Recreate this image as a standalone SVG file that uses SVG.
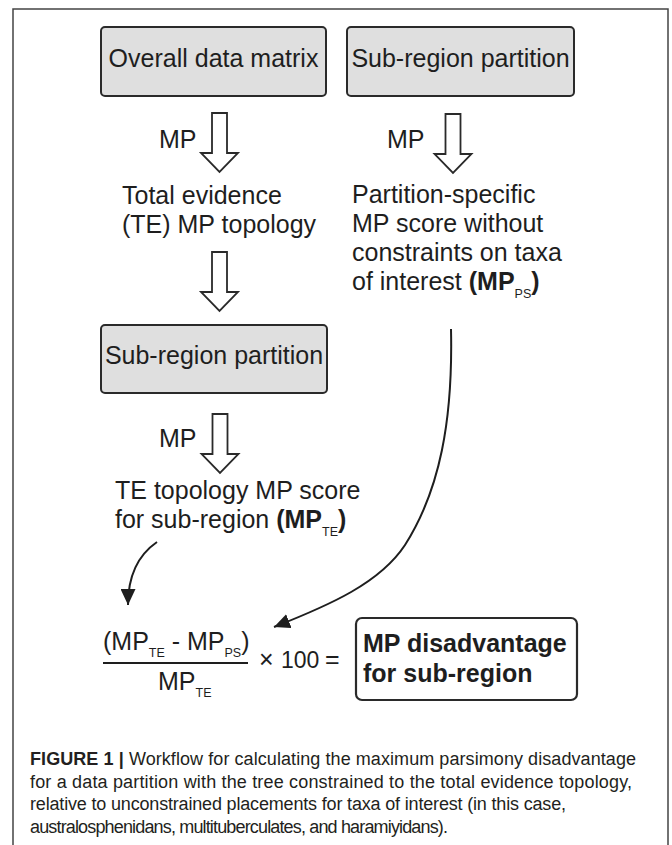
<svg xmlns="http://www.w3.org/2000/svg" width="672" height="845" viewBox="0 0 672 845">
<defs>
<style>
.t{font-family:"Liberation Sans",Arial,sans-serif;font-size:25px;fill:#1e1e1e}
.b{font-weight:bold}
.sub{font-size:12.5px}
.box{fill:#dfdfdf;stroke:#2a2a2a;stroke-width:2}
.res{fill:#fff;stroke:#2a2a2a;stroke-width:2.2}
.blk{fill:#fff;stroke:#2a2a2a;stroke-width:1.8;stroke-linejoin:miter}
.cur{fill:none;stroke:#1e1e1e;stroke-width:2}
.cap{font-family:"Liberation Sans",Arial,sans-serif;font-size:18px;fill:#231f20}
</style>
<path id="blockArrow" class="blk" d="M-7.5,0 V40 H-18.5 L0,59 L18.5,40 H7.5 V0 Z"/>
<marker id="head" markerUnits="userSpaceOnUse" markerWidth="17" markerHeight="15" refX="16" refY="7.5" orient="auto">
<path d="M0,0 L16,7.5 L0,15 Z" fill="#1e1e1e"/>
</marker>
</defs>
<rect width="672" height="845" fill="#fff"/>
<path d="M13,845 V9 H668 V845" fill="none" stroke="#444" stroke-width="1.5"/>

<g id="overall-data-matrix">
<rect class="box" x="101" y="27" width="225" height="69" rx="4"/>
<text class="t" x="213.5" y="67" text-anchor="middle">Overall data matrix</text>
</g>
<g id="sub-region-partition-1">
<rect class="box" x="347" y="27" width="227" height="69" rx="4"/>
<text class="t" x="460.5" y="67" text-anchor="middle">Sub-region partition</text>
</g>
<g id="te-topology">
<text class="t" x="122" y="204">Total evidence</text>
<text class="t" x="122" y="233">(TE) MP topology</text>
</g>
<g id="partition-specific">
<text class="t" x="352" y="203">Partition-specific</text>
<text class="t" x="352" y="232">MP score without</text>
<text class="t" x="352" y="261">constraints on taxa</text>
<text class="t" x="352" y="290">of interest <tspan class="b">(MP</tspan><tspan class="sub" dy="8">PS</tspan><tspan class="b" dy="-8">)</tspan></text>
</g>
<g id="sub-region-partition-2">
<rect class="box" x="101" y="325" width="226" height="68" rx="4"/>
<text class="t" x="214" y="364" text-anchor="middle">Sub-region partition</text>
</g>
<g id="te-score">
<text class="t" x="115" y="499">TE topology MP score</text>
<text class="t" x="115" y="528">for sub-region <tspan class="b">(MP</tspan><tspan class="sub" dy="8">TE</tspan><tspan class="b" dy="-8">)</tspan></text>
</g>
<g id="formula">
<text class="t" x="103" y="650">(MP<tspan class="sub" dy="7">TE</tspan><tspan dy="-7"> - MP</tspan><tspan class="sub" dy="7">PS</tspan><tspan dy="-7">)</tspan></text>
<line x1="103" y1="663" x2="248" y2="663" stroke="#1e1e1e" stroke-width="2"/>
<text class="t" x="158" y="690">MP<tspan class="sub" dy="7">TE</tspan></text>
<text class="t" x="259" y="668">×</text>
<text class="t" x="281" y="668" style="font-size:23px">100</text>
<text class="t" x="325" y="668">=</text>
</g>
<g id="mp-disadvantage">
<rect class="res" x="356" y="618" width="221" height="82" rx="6"/>
<text class="t b" x="363" y="652">MP disadvantage</text>
<text class="t b" x="363" y="682">for sub-region</text>
</g>

<g id="connectors">
<use href="#blockArrow" x="219.5" y="113"/>
<text class="t" x="159" y="148">MP</text>
<use href="#blockArrow" x="453" y="114"/>
<text class="t" x="387" y="148">MP</text>
<use href="#blockArrow" x="219.5" y="252"/>
<use href="#blockArrow" x="220" y="414"/>
<text class="t" x="159" y="447">MP</text>
<path class="cur" d="M157,542 Q128,562 128,605" marker-end="url(#head)"/>
<path class="cur" d="M451,329 C453,420 440,490 405,545 C380,583 330,605 274,627" marker-end="url(#head)"/>
</g>

<g id="caption">
<text class="cap" x="30" y="765" textLength="606"><tspan font-weight="bold">FIGURE 1 |</tspan> Workflow for calculating the maximum parsimony disadvantage</text>
<text class="cap" x="30" y="787.5" textLength="602">for a data partition with the tree constrained to the total evidence topology,</text>
<text class="cap" x="30" y="810" textLength="536">relative to unconstrained placements for taxa of interest (in this case,</text>
<text class="cap" x="30" y="832.5" textLength="418">australosphenidans, multituberculates, and haramiyidans).</text>
</g>
</svg>
